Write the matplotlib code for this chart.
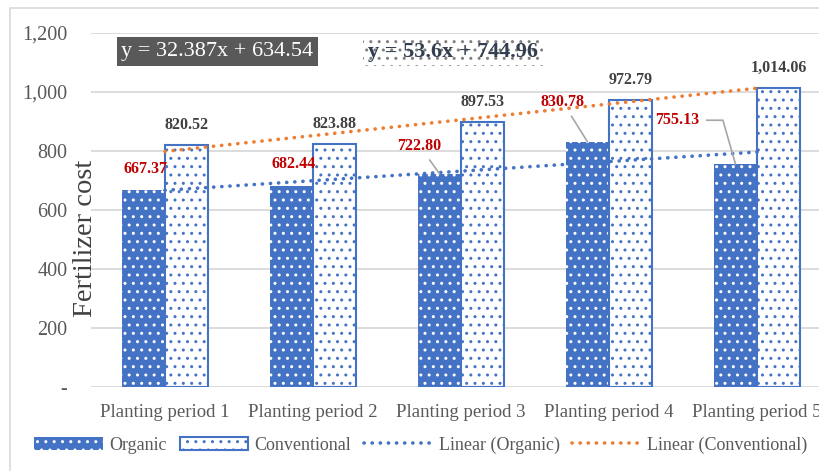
import numpy as np
import matplotlib
matplotlib.use("Agg")
import matplotlib.pyplot as plt
from matplotlib.patches import Rectangle
from matplotlib.ticker import FuncFormatter

categories = ["Planting period 1", "Planting period 2", "Planting period 3",
              "Planting period 4", "Planting period 5"]
organic = [667.37, 682.44, 722.80, 830.78, 755.13]
conventional = [820.52, 823.88, 897.53, 972.79, 1014.06]
eq_organic = "y = 32.387x + 634.54"
eq_conventional = "y = 53.6x + 744.96"

BLUE = "#4472C4"
ORANGE = "#ED7D31"
RED = "#C00000"
DARK = "#404040"
GRID = "#D9D9D9"
SERIF = ["Liberation Serif", "DejaVu Serif"]

plt.rcParams["font.family"] = SERIF
plt.rcParams["hatch.linewidth"] = 1.0

W, H = 819, 471
fig = plt.figure(figsize=(W / 100, H / 100), dpi=100)

# chart border
fig.patches.append(Rectangle((10 / W, -0.1), 1.2, 1.1 - 8 / H, transform=fig.transFigure,
                             fill=False, edgecolor=GRID, linewidth=1.2, zorder=0))

ax = fig.add_axes([91 / W, (H - 387) / H, (831 - 91) / W, (387 - 33) / H])
x = np.arange(len(categories))
bw = 0.29

b1 = ax.bar(x - bw / 2, organic, width=bw, color=BLUE, edgecolor="white", hatch="..",
            linewidth=0, zorder=2, label="Organic")
b2 = ax.bar(x + bw / 2, conventional, width=bw, color="white", edgecolor=BLUE, hatch="..",
            linewidth=1.5, zorder=2, label="Conventional")

# linear trendlines (least squares, Excel-style x = 1..n)
xn = x + 1
po = np.polyfit(xn, organic, 1)
pc = np.polyfit(xn, conventional, 1)
l1, = ax.plot(x, np.polyval(po, xn), color=BLUE, lw=2.6, linestyle=(0, (0.05, 2.2)),
              dash_capstyle="round", zorder=3, label="Linear (Organic)")
l2, = ax.plot(x, np.polyval(pc, xn), color=ORANGE, lw=2.6, linestyle=(0, (0.05, 2.2)),
              dash_capstyle="round", zorder=3, label="Linear (Conventional)")

ax.set_xlim(-0.5, 4.5)
ax.set_ylim(0, 1200)
ax.set_yticks(np.arange(0, 1201, 200))
ax.yaxis.set_major_formatter(FuncFormatter(lambda v, p: "-" if v == 0 else f"{int(v):,}"))
ax.set_xticks(x)
ax.set_xticklabels(categories)
ax.tick_params(axis="both", length=0, labelcolor="#595959")
ax.tick_params(axis="y", pad=17, labelsize=14.5)
ax.tick_params(axis="x", pad=12, labelsize=13.5)
ax.grid(axis="y", color=GRID, lw=1.3, zorder=0)
ax.set_axisbelow(True)
for s in ax.spines.values():
    s.set_visible(False)
ax.set_ylabel("Fertilizer cost", fontsize=20.5, color="#404040")
ax.yaxis.set_label_coords(0.01, 0.42)
ax.patch.set_alpha(0)

# conventional labels
for i, v in enumerate(conventional):
    ax.annotate(f"{v:,.2f}", xy=(x[i] + bw / 2, v), xytext=(0, 20), textcoords="offset pixels",
                ha="center", va="center", fontsize=11.5, fontweight="bold", color=DARK, zorder=5)

# organic labels (offsets in pixels) and leader lines
org_offsets = [(2, 21), (2, 22), (-20, 28), (-25, 40), (-58, 44)]
leaders = [None, None, "arc3", "arc3", "angle,angleA=0,angleB=106,rad=0"]
for i, v in enumerate(organic):
    kw = {}
    if leaders[i]:
        kw["arrowprops"] = dict(arrowstyle="-", color="#A6A6A6", lw=1.2,
                                shrinkA=3, shrinkB=0, connectionstyle=leaders[i])
    ax.annotate(f"{v:,.2f}", xy=(x[i] - bw / 2, v), xytext=org_offsets[i],
                textcoords="offset pixels", ha="center", va="center", fontsize=11.5,
                fontweight="bold", color=RED, zorder=5, **kw)

# equation boxes
fig.text(217.5 / W, 1 - 51.5 / H, eq_organic, ha="center", va="center", fontsize=16,
         color="white",
         bbox=dict(boxstyle="square,pad=0.22", facecolor="#595959", edgecolor="#595959", lw=0))
fig.text(453 / W, 1 - 51.5 / H, eq_conventional, ha="center", va="center", fontsize=16,
         fontweight="bold", color="#333F50",
         bbox=dict(boxstyle="square,pad=0.22", facecolor="white", edgecolor="#7F7F7F",
                   hatch="..", lw=0))

fig.legend([b1, b2, l1, l2], ["Organic", "Conventional", "Linear (Organic)", "Linear (Conventional)"],
           ncol=4, loc="center", bbox_to_anchor=(421 / W, 1 - 445 / H),
           frameon=False, prop=dict(family=SERIF, size=13), handlelength=3.8, handleheight=0.75,
           handletextpad=0.35, columnspacing=0.7, labelcolor="#595959")

fig.savefig("out.png", dpi=100)
